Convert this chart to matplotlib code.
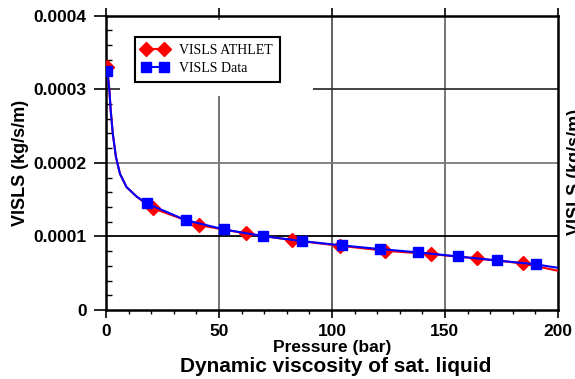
import matplotlib
matplotlib.use('Agg')
import matplotlib.pyplot as plt
from matplotlib.patches import Rectangle
from matplotlib.ticker import MultipleLocator, FuncFormatter

# ATHLET curve (red diamonds), markers on a subset of the points
p_athlet = [0.6, 1.5, 2.1, 3.0, 4.4, 6.2, 9.1, 13.6, 17.0, 20.9, 41.3, 61.8,
            82.2, 103.5, 123.5, 143.8, 164.0, 184.6, 200.0]
v_athlet = [3.30e-4, 2.99e-4, 2.71e-4, 2.40e-4, 2.08e-4, 1.85e-4, 1.67e-4,
            1.54e-4, 1.46e-4, 1.38e-4, 1.153e-4, 1.04e-4, 0.95e-4, 0.873e-4,
            0.805e-4, 0.76e-4, 0.701e-4, 0.633e-4, 0.533e-4]
mk_athlet = [0] + list(range(9, 18))

# reference data curve (blue squares)
p_data = [0.6, 1.5, 2.1, 3.0, 4.4, 6.2, 9.1, 13.6, 18.0, 35.3, 52.2, 69.6,
          86.9, 104.3, 121.2, 138.2, 155.6, 172.9, 190.1, 200.0]
v_data = [3.25e-4, 2.99e-4, 2.71e-4, 2.40e-4, 2.08e-4, 1.85e-4, 1.67e-4,
          1.54e-4, 1.448e-4, 1.221e-4, 1.095e-4, 1.004e-4, 0.936e-4,
          0.878e-4, 0.828e-4, 0.783e-4, 0.728e-4, 0.674e-4, 0.620e-4, 0.574e-4]
mk_data = [0] + list(range(8, 19))

fig = plt.figure(figsize=(5.75, 3.79), dpi=100)
ax = fig.add_axes([0.1843, 0.182, 0.786, 0.777])

# grid lines
for xv, c in [(50, '#6a6a6a'), (100, '#555555'), (150, '#6a6a6a')]:
    ax.axvline(xv, color=c, lw=1.3, zorder=1)
for yv, c in [(1e-4, '#000000'), (2e-4, '#7a7a7a'), (3e-4, '#333333')]:
    ax.axhline(yv, color=c, lw=1.3, zorder=1)
# white block behind the legend hiding part of the grid
ax.add_patch(Rectangle((6.2, 2.905e-4), 85.4, 1.03e-4, facecolor='white',
                       edgecolor='none', zorder=1.5))

ax.plot(p_athlet, v_athlet, color='red', lw=1.5, marker='D', ms=7,
        markevery=mk_athlet, label='VISLS ATHLET', zorder=3)
ax.plot(p_data, v_data, color='blue', lw=1.5, marker='s', ms=7,
        markevery=mk_data, label='VISLS Data', zorder=4)

ax.set_xlim(0, 200)
ax.set_ylim(0, 0.0004)
ax.xaxis.set_major_locator(MultipleLocator(50))
ax.xaxis.set_minor_locator(MultipleLocator(10))
ax.yaxis.set_major_locator(MultipleLocator(0.0001))
ax.yaxis.set_minor_locator(MultipleLocator(0.00002))
ax.yaxis.set_major_formatter(FuncFormatter(lambda v, p: '0' if v == 0 else '%.4f' % v))

for s in ax.spines.values():
    s.set_linewidth(1.8)

ax.tick_params(axis='y', which='major', direction='out', length=9, width=1.2,
               pad=5, labelsize=12.5)
ax.tick_params(axis='y', which='minor', direction='in', length=4, width=1.0)
ax.tick_params(axis='x', which='major', direction='out', length=6, width=1.2,
               pad=4, labelsize=12.5)
ax.tick_params(axis='x', which='minor', direction='out', length=3, width=1.0)
ax.tick_params(axis='x', which='major', top=True)
for lab in ax.get_xticklabels() + ax.get_yticklabels():
    lab.set_fontfamily('Liberation Sans')
    lab.set_fontweight('bold')

ax.set_xlabel('Pressure (bar)', fontsize=12.5, fontweight='bold',
              family='Liberation Sans', labelpad=1)
ax.set_ylabel('VISLS (kg/s/m)', fontsize=13, fontweight='bold',
              family='Liberation Sans', labelpad=3)

fig.text(0.583, 0.034, 'Dynamic viscosity of sat. liquid', fontsize=15,
         fontweight='bold', family='Liberation Sans', ha='center', va='center')
fig.text(567 / 575, 0.546, 'VISLS (kg/s/m)', fontsize=13, fontweight='bold',
         family='Liberation Sans', rotation=90, ha='left', va='center')

leg = ax.legend(loc='upper left', bbox_to_anchor=(0.048, 0.95), numpoints=2,
                handlelength=1.9, fancybox=False, framealpha=1, borderpad=0.5,
                labelspacing=0.35, prop={'family': 'Liberation Serif', 'size': 10})
leg.get_frame().set_edgecolor('black')
leg.get_frame().set_linewidth(1.5)
leg.set_zorder(5)

fig.savefig('out.png', dpi=100)
